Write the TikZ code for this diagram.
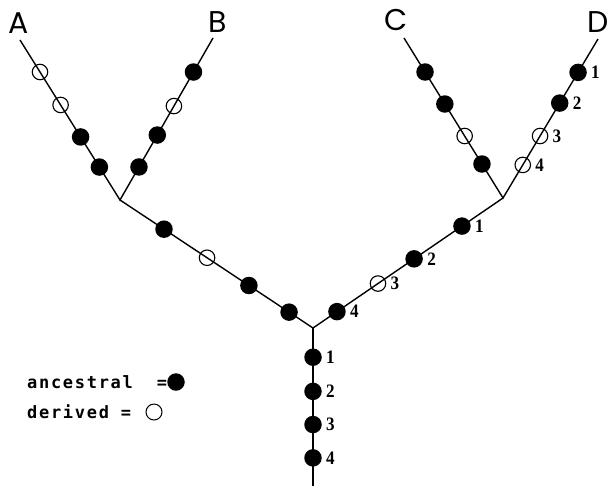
\documentclass[tikz,border=0pt]{standalone}
\usepackage{fontspec}
\usetikzlibrary{calc}
\newfontfamily\tipfont{Poppins}
\newfontfamily\keyfont[LetterSpace=10]{DejaVu Sans Mono}
\newfontfamily\numfont{Liberation Serif}
\begin{document}
\begin{tikzpicture}[x=1pt,y=-1pt,
  branch/.style={line width=1.4pt},
  anc/.style={circle,fill=black,inner sep=0pt,minimum size=17.5pt},
  der/.style={circle,draw=black,line width=1.1pt,inner sep=0pt,minimum size=15.5pt},
  num/.style={font=\numfont\bfseries\fontsize{19}{19}\selectfont,inner sep=0pt,xscale=0.9},
  tip/.style={font=\tipfont\fontsize{30}{30}\selectfont,inner sep=0pt},
  key/.style={font=\keyfont\bfseries\fontsize{17}{17}\selectfont,inner sep=0pt,anchor=west},
  nr/.style={label={[num,label distance=4.5pt]right:#1}}]
\useasboundingbox (0,0) rectangle (610,491);

% tips, forks and the stem
\coordinate (tA) at (20,40);
\coordinate (tB) at (213,38);
\coordinate (tC) at (404,38);
\coordinate (tD) at (598,39);
\coordinate (jAB) at (120,200);
\coordinate (jCD) at (503,198);
\coordinate (root) at (313,328);
\coordinate (base) at (313,486);

\node[tip] (lA) at (19,23) {A};
\node[tip] (lB) at (218,22) {B};
\node[tip] (lC) at (396,20) {C};
\node[tip] (lD) at (598,22) {D};

% branches
\draw[branch] (tA) -- (jAB) -- (tB);
\draw[branch] (tC) -- (jCD) -- (tD);
\draw[branch] (jAB) -- (root) -- (jCD);
\draw[branch] (root) -- (base);

% character states on the A branch
\node[anc] (a1) at ($(jAB)!0.206!(tA)$) {};
\node[anc] (a2) at ($(jAB)!0.394!(tA)$) {};
\node[der] (a3) at ($(jAB)!0.594!(tA)$) {};
\node[der] (a4) at ($(jAB)!0.80!(tA)$) {};

% B branch
\node[anc] (b1) at ($(jAB)!0.204!(tB)$) {};
\node[anc] (b2) at ($(jAB)!0.401!(tB)$) {};
\node[der] (b3) at ($(jAB)!0.58!(tB)$) {};
\node[anc] (b4) at ($(jAB)!0.79!(tB)$) {};

% C branch
\node[anc] (c1) at ($(jCD)!0.2125!(tC)$) {};
\node[der] (c2) at ($(jCD)!0.3875!(tC)$) {};
\node[anc] (c3) at ($(jCD)!0.5875!(tC)$) {};
\node[anc] (c4) at ($(jCD)!0.7875!(tC)$) {};

% D branch, numbered
\node[der,nr=4] (d4) at ($(jCD)!0.208!(tD)$) {};
\node[der,nr=3] (d3) at ($(jCD)!0.39!(tD)$) {};
\node[anc,nr=2] (d2) at ($(jCD)!0.597!(tD)$) {};
\node[anc,nr=1] (d1) at ($(jCD)!0.79!(tD)$) {};

% internal branch to the AB fork
\node[anc] (e1) at ($(jAB)!0.228!(root)$) {};
\node[der] (e2) at ($(jAB)!0.451!(root)$) {};
\node[anc] (e3) at ($(jAB)!0.668!(root)$) {};
\node[anc] (e4) at ($(jAB)!0.876!(root)$) {};

% internal branch to the CD fork, numbered
\node[anc,nr=1] (f1) at ($(jCD)!0.216!(root)$) {};
\node[anc,nr=2] (f2) at ($(jCD)!0.468!(root)$) {};
\node[der,nr=3] (f3) at ($(jCD)!0.658!(root)$) {};
\node[anc,nr=4] (f4) at ($(jCD)!0.874!(root)$) {};

% stem, numbered
\node[anc,nr=1] (g1) at ($(root)!0.185!(base)$) {};
\node[anc,nr=2] (g2) at ($(root)!0.401!(base)$) {};
\node[anc,nr=3] (g3) at ($(root)!0.611!(base)$) {};
\node[anc,nr=4] (g4) at ($(root)!0.822!(base)$) {};

% key
\node[key] (kA) at (27,382) {ancestral\ \ =};
\node[anc] (kAc) at (176,382) {};
\node[key] (kD) at (27,412) {derived =};
\node[der,minimum size=16pt,line width=1pt] (kDc) at (154,412) {};
\end{tikzpicture}
\end{document}
